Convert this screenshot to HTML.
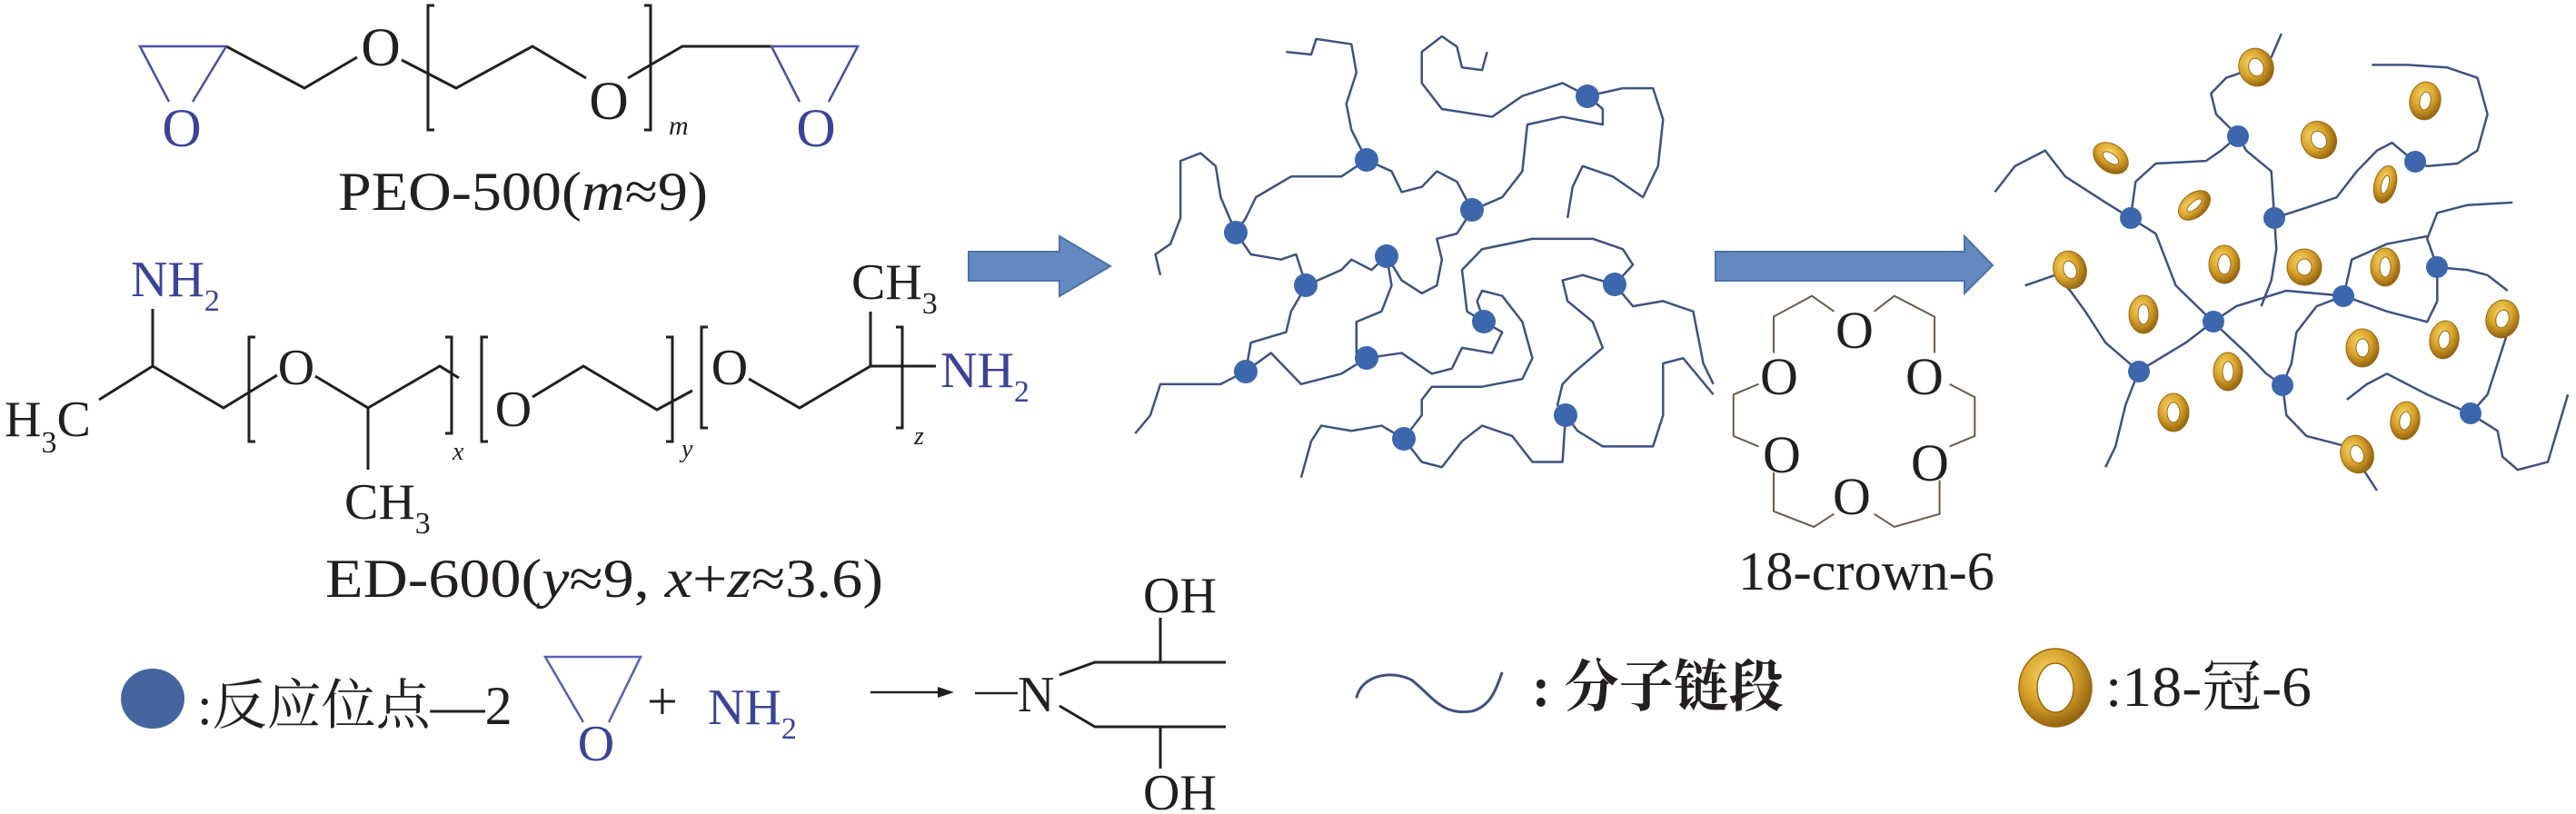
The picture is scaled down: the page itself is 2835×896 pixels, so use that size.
<!DOCTYPE html>
<html><head><meta charset="utf-8"><style>
html,body{margin:0;padding:0;background:#fff;}
svg{display:block;}
text{font-family:"Liberation Serif","Noto Serif CJK SC","Noto Sans CJK SC",serif;fill:#231f20;}
.b{fill:#3b4396;}
.cjk{font-family:"Liberation Serif","Noto Serif CJK SC",serif;}
</style></head><body>
<svg width="2835" height="896" viewBox="0 0 2835 896" xmlns="http://www.w3.org/2000/svg">
<defs>
<radialGradient id="gold" cx="40%" cy="35%" r="70%">
<stop offset="0" stop-color="#f6d66a"/><stop offset="0.5" stop-color="#d9a42c"/><stop offset="1" stop-color="#8a5a0c"/>
</radialGradient>
</defs>

<!-- PEO -->
<g fill="none" stroke="#231f20" stroke-width="3">
<polyline points="249,51 335,97 393,63"/>
<polyline points="442,66 502,97 586,51 645,86"/>
<polyline points="691,86 751,51 849,51"/>
<polyline points="478,6 471,6 471,143 478,143"/>
<polyline points="709,6 716,6 716,143 709,143"/>
</g>
<g fill="none" stroke="#4a4fa0" stroke-width="2.5">
<polyline points="186,112 154,51 249,51 212,112"/>
<polyline points="880,112 849,51 944,51 912,112"/>
</g>
<text x="200" y="161" font-size="60" text-anchor="middle" class="b">O</text>
<text x="898" y="161" font-size="60" text-anchor="middle" class="b">O</text>
<text x="419" y="72" font-size="60" text-anchor="middle">O</text>
<text x="670" y="131" font-size="60" text-anchor="middle">O</text>
<text x="736" y="148" font-size="30" font-style="italic">m</text>
<text x="372" y="231" font-size="60" textLength="407" lengthAdjust="spacingAndGlyphs">PEO-500(<tspan font-style="italic">m</tspan>≈9)</text>

<!-- ED-600 -->
<g fill="none" stroke="#231f20" stroke-width="3">
<polyline points="168,340 168,403"/>
<polyline points="109,440 168,403 246,449 305,413"/>
<polyline points="347,414 405,449 405,517"/>
<polyline points="405,449 484,403 505,416"/>
<polyline points="586,437 642,403 723,451 762,430"/>
<polyline points="824,417 880,449 958,403 958,343"/>
<polyline points="958,403 1030,403"/>
<polyline points="281,371 274,371 274,486 281,486"/>
<polyline points="490,371 497,371 497,477 490,477"/>
<polyline points="537,371 530,371 530,486 537,486"/>
<polyline points="733,371 740,371 740,486 733,486"/>
<polyline points="779,360 772,360 772,471 779,471"/>
<polyline points="986,360 993,360 993,471 986,471"/>
</g>
<text x="144" y="326" font-size="56" class="b">NH<tspan font-size="34" dy="16">2</tspan></text>
<text x="5" y="480" font-size="56">H<tspan font-size="34" dy="18">3</tspan><tspan dy="-18">C</tspan></text>
<text x="326" y="423" font-size="56" text-anchor="middle">O</text>
<text x="379" y="571" font-size="56">CH<tspan font-size="34" dy="16">3</tspan></text>
<text x="498" y="506" font-size="28" font-style="italic">x</text>
<text x="565" y="469" font-size="56" text-anchor="middle">O</text>
<text x="750" y="503" font-size="28" font-style="italic">y</text>
<text x="803" y="423" font-size="56" text-anchor="middle">O</text>
<text x="937" y="329" font-size="56">CH<tspan font-size="34" dy="16">3</tspan></text>
<text x="1006" y="489" font-size="28" font-style="italic">z</text>
<text x="1035" y="426" font-size="56" class="b">NH<tspan font-size="34" dy="16">2</tspan></text>
<text x="358" y="657" font-size="60" textLength="614" lengthAdjust="spacingAndGlyphs">ED-600(<tspan font-style="italic">y</tspan>≈9, <tspan font-style="italic">x</tspan>+<tspan font-style="italic">z</tspan>≈3.6)</text>

<!-- bottom-left reaction -->
<ellipse cx="168" cy="769" rx="35" ry="33" fill="#44659f"/>
<text x="217" y="797" font-size="60" class="cjk">:反应位点—2</text>
<polyline points="642,795 600,723 705,723 670,795" fill="none" stroke="#5a5fb0" stroke-width="2.5"/>
<text x="656" y="837" font-size="56" text-anchor="middle" class="b">O</text>
<text x="712" y="792" font-size="60">+</text>
<text x="779" y="797" font-size="56" class="b">NH<tspan font-size="34" dy="16">2</tspan></text>
<line x1="958" y1="762" x2="1042" y2="762" stroke="#231f20" stroke-width="2.5"/>
<polygon points="1050,762 1032,756 1032,768" fill="#231f20"/>
<line x1="1073" y1="763" x2="1120" y2="763" stroke="#231f20" stroke-width="2.5"/>
<text x="1120" y="783" font-size="56">N</text>
<g fill="none" stroke="#231f20" stroke-width="3">
<polyline points="1166,743 1205,729 1349,729"/>
<polyline points="1277,729 1277,680"/>
<polyline points="1166,777 1205,800 1349,800"/>
<polyline points="1277,800 1277,846"/>
</g>
<text x="1258" y="674" font-size="56">OH</text>
<text x="1258" y="891" font-size="56">OH</text>

<!-- blue arrows -->
<polygon points="1066,277 1166,277 1166,260 1222,293 1166,326 1166,309 1066,309" fill="#6489be" stroke="#4a72a8" stroke-width="2"/>
<polygon points="1888,277 2162,277 2162,260 2193,292 2162,323 2162,309 1888,309" fill="#6489be" stroke="#4a72a8" stroke-width="2"/>

<!-- crown ether -->
<g transform="translate(1100,0) scale(1.1065,0.5714)" fill="none" stroke="#6b5a4a" stroke-width="2" vector-effect="non-scaling-stroke">
<path vector-effect="non-scaling-stroke" d="M 830,600 L 808,570 L 770,610 L 770,680 M 755,740 L 730,760 L 730,840 L 755,860 M 770,910 L 770,985 L 810,1015 L 830,990 M 870,990 L 890,1015 L 935,990 L 935,925 M 945,860 L 970,840 L 970,765 L 945,740 M 930,680 L 930,610 L 890,570 L 870,600"/>
</g>
<g font-size="58" text-anchor="middle">
<text x="2041" y="383">O</text>
<text x="1958" y="434">O</text>
<text x="2118" y="434">O</text>
<text x="1961" y="520">O</text>
<text x="2124" y="529">O</text>
<text x="2038" y="566">O</text>
</g>
<text x="1913" y="649" font-size="60" textLength="282" lengthAdjust="spacingAndGlyphs">18-crown-6</text>

<!-- network 1 -->
<g transform="translate(1100,0) scale(1.1065,0.5714)" fill="none" stroke="#3f527f" stroke-width="2.5" stroke-linejoin="round">
<g vector-effect="non-scaling-stroke">
<polyline vector-effect="non-scaling-stroke" points="285,100 310,105 315,75 350,85 355,140 345,200 350,250 365,308 390,330 400,370 420,360 435,330 455,350 470,405"/>
<polyline vector-effect="non-scaling-stroke" points="365,308 340,340 290,340 255,380 245,420 235,448 250,490 280,500 295,490 305,550 290,600 285,640 250,660 245,715 220,740 160,740 150,800 135,835"/>
<polyline vector-effect="non-scaling-stroke" points="235,448 220,380 215,320 200,295 180,310 180,420 170,470 155,490 160,530"/>
<polyline vector-effect="non-scaling-stroke" points="470,405 500,380 520,330 525,240 560,225 600,240 600,210 585,185 560,160 520,185 490,225 440,210 420,160 420,100 440,70 455,90 460,130 480,135 485,100"/>
<polyline vector-effect="non-scaling-stroke" points="585,185 620,170 650,170 660,230 655,320 640,380 610,340 580,320 570,360 565,420"/>
<polyline vector-effect="non-scaling-stroke" points="470,405 455,450 435,460 440,500 435,550 420,565 400,540 385,493 370,520 350,500 340,520 305,550"/>
<polyline vector-effect="non-scaling-stroke" points="385,493 390,550 380,600 355,620 355,680 365,690 400,680 430,720 450,710 460,670 490,680 500,640 482,620 475,580 480,560 500,570 520,620 530,690 520,730 480,745 430,745 420,770 420,800 402,845"/>
<polyline vector-effect="non-scaling-stroke" points="482,620 465,600 460,520 480,480 530,460 590,460 620,480 630,510 612,548 580,530 560,540 565,580 590,620 600,670 570,720 560,740 555,780 563,800 575,830 600,860 650,860 660,800 660,700 680,690 710,760"/>
<polyline vector-effect="non-scaling-stroke" points="612,548 630,590 660,580 690,600 700,700 710,740"/>
<polyline vector-effect="non-scaling-stroke" points="402,845 380,820 350,830 320,820 310,850 300,920"/>
<polyline vector-effect="non-scaling-stroke" points="402,845 420,890 440,900 460,850 480,820 510,840 530,890 560,890 563,800"/>
<polyline vector-effect="non-scaling-stroke" points="365,690 340,720 300,740 270,680 245,715"/>
</g>
</g>
<g fill="#3d67ad">
<circle cx="1747" cy="106" r="13"/><circle cx="1504" cy="176" r="13"/><circle cx="1620" cy="231" r="13"/>
<circle cx="1360" cy="256" r="13"/><circle cx="1526" cy="282" r="13"/><circle cx="1437" cy="314" r="13"/>
<circle cx="1777" cy="313" r="13"/><circle cx="1633" cy="354" r="13"/><circle cx="1504" cy="394" r="13"/>
<circle cx="1371" cy="409" r="13"/><circle cx="1723" cy="457" r="13"/><circle cx="1545" cy="483" r="13"/>
</g>

<!-- network 2 -->
<g transform="translate(1100,0) scale(1.1065,0.5714)" fill="none" stroke="#3f527f" stroke-width="2.5" stroke-linejoin="round">
<polyline vector-effect="non-scaling-stroke" points="1275,65 1265,110 1250,130 1220,150 1205,180 1210,220 1232,262 1240,290 1265,330 1268,420"/>
<polyline vector-effect="non-scaling-stroke" points="1232,262 1215,290 1200,310 1150,315 1130,350 1125,420 1100,390 1060,340 1040,290 1010,320 990,370"/>
<polyline vector-effect="non-scaling-stroke" points="1125,420 1150,450 1160,500 1170,550 1207,620"/>
<polyline vector-effect="non-scaling-stroke" points="1268,420 1300,400 1330,380 1350,330 1370,290 1385,275 1408,312 1420,320 1450,315 1470,290 1480,220 1470,150 1440,130 1400,125 1365,125"/>
<polyline vector-effect="non-scaling-stroke" points="1268,420 1270,480 1265,540 1255,590"/>
<polyline vector-effect="non-scaling-stroke" points="1430,515 1420,460 1430,410 1460,395 1505,390"/>
<polyline vector-effect="non-scaling-stroke" points="1430,515 1460,520 1480,530 1500,560"/>
<polyline vector-effect="non-scaling-stroke" points="1337,570 1345,500 1380,470 1420,455"/>
<polyline vector-effect="non-scaling-stroke" points="1337,570 1310,590 1290,640 1285,700 1276,742"/>
<polyline vector-effect="non-scaling-stroke" points="1337,570 1380,600 1420,620 1430,580 1430,515"/>
<polyline vector-effect="non-scaling-stroke" points="1207,620 1230,590 1280,560 1337,570"/>
<polyline vector-effect="non-scaling-stroke" points="1207,620 1180,660 1133,715 1100,660 1080,600 1065,560 1050,530 1020,550"/>
<polyline vector-effect="non-scaling-stroke" points="1133,715 1120,780 1110,860 1100,900"/>
<polyline vector-effect="non-scaling-stroke" points="1207,620 1240,680 1260,720 1276,742"/>
<polyline vector-effect="non-scaling-stroke" points="1276,742 1280,800 1300,840 1340,860 1355,900 1370,945"/>
<polyline vector-effect="non-scaling-stroke" points="1463,797 1420,760 1380,720 1360,740 1340,770"/>
<polyline vector-effect="non-scaling-stroke" points="1463,797 1480,760 1490,700 1500,640 1495,615"/>
<polyline vector-effect="non-scaling-stroke" points="1463,797 1490,830 1495,880 1510,905 1540,890 1560,760"/>
</g>
<g fill="#3d67ad">
<circle cx="2463" cy="150" r="12"/><circle cx="2658" cy="178" r="12"/><circle cx="2345" cy="240" r="12"/>
<circle cx="2503" cy="240" r="12"/><circle cx="2682" cy="294" r="12"/><circle cx="2579" cy="326" r="12"/>
<circle cx="2436" cy="354" r="12"/><circle cx="2354" cy="409" r="12"/><circle cx="2512" cy="424" r="12"/>
<circle cx="2719" cy="455" r="12"/>
</g>
<g fill="url(#gold)" stroke="#9a6a14" stroke-width="1">
<g transform="translate(2483,74) rotate(-20)"><ellipse rx="19" ry="21"/><ellipse rx="8" ry="10" fill="#fff"/></g>
<g transform="translate(2669,111) rotate(10)"><ellipse rx="17" ry="21"/><ellipse rx="6" ry="10" fill="#fff"/></g>
<g transform="translate(2552,154) rotate(-30)"><ellipse rx="19" ry="21"/><ellipse rx="8" ry="10" fill="#fff"/></g>
<g transform="translate(2323,174) rotate(35)"><ellipse rx="21" ry="15"/><ellipse rx="10" ry="5" fill="#fff"/></g>
<g transform="translate(2415,226) rotate(-40)"><ellipse rx="20" ry="13"/><ellipse rx="10" ry="4" fill="#fff"/></g>
<g transform="translate(2625,203) rotate(15)"><ellipse rx="12" ry="21"/><ellipse rx="4" ry="10" fill="#fff"/></g>
<g transform="translate(2448,291)"><ellipse rx="17" ry="21"/><ellipse rx="7" ry="11" fill="#fff"/></g>
<g transform="translate(2536,294)"><ellipse rx="19" ry="20"/><ellipse rx="8" ry="9" fill="#fff"/></g>
<g transform="translate(2625,294)"><ellipse rx="16" ry="21"/><ellipse rx="6" ry="11" fill="#fff"/></g>
<g transform="translate(2278,297) rotate(-20)"><ellipse rx="18" ry="21"/><ellipse rx="7" ry="10" fill="#fff"/></g>
<g transform="translate(2359,346)"><ellipse rx="16" ry="21"/><ellipse rx="6" ry="11" fill="#fff"/></g>
<g transform="translate(2600,383)"><ellipse rx="18" ry="21"/><ellipse rx="7" ry="10" fill="#fff"/></g>
<g transform="translate(2690,374) rotate(10)"><ellipse rx="16" ry="21"/><ellipse rx="6" ry="10" fill="#fff"/></g>
<g transform="translate(2754,351) rotate(15)"><ellipse rx="18" ry="21"/><ellipse rx="7" ry="10" fill="#fff"/></g>
<g transform="translate(2452,409)"><ellipse rx="16" ry="21"/><ellipse rx="6" ry="11" fill="#fff"/></g>
<g transform="translate(2392,454)"><ellipse rx="17" ry="21"/><ellipse rx="7" ry="11" fill="#fff"/></g>
<g transform="translate(2647,463) rotate(10)"><ellipse rx="16" ry="21"/><ellipse rx="6" ry="10" fill="#fff"/></g>
<g transform="translate(2594,500) rotate(-20)"><ellipse rx="18" ry="21"/><ellipse rx="7" ry="10" fill="#fff"/></g>
</g>

<!-- legend -->
<g transform="translate(1100,0) scale(1.1065,0.5714)">
<path vector-effect="non-scaling-stroke" d="M355,1345 C360,1300 390,1290 410,1310 C430,1340 440,1380 470,1370 C490,1360 495,1320 500,1295" fill="none" stroke="#3f527f" stroke-width="3"/>
</g>
<text x="1686" y="777" font-size="62" class="cjk" font-weight="bold" textLength="277" lengthAdjust="spacingAndGlyphs">: 分子链段</text>
<g transform="translate(2262,757)" fill="url(#gold)" stroke="#9a6a14" stroke-width="1.5">
<ellipse rx="40" ry="43"/><ellipse rx="20" ry="27" fill="#fff"/>
</g>
<text x="2317" y="777" font-size="62" class="cjk" textLength="227" lengthAdjust="spacingAndGlyphs">:18-冠-6</text>
</svg>
</body></html>
